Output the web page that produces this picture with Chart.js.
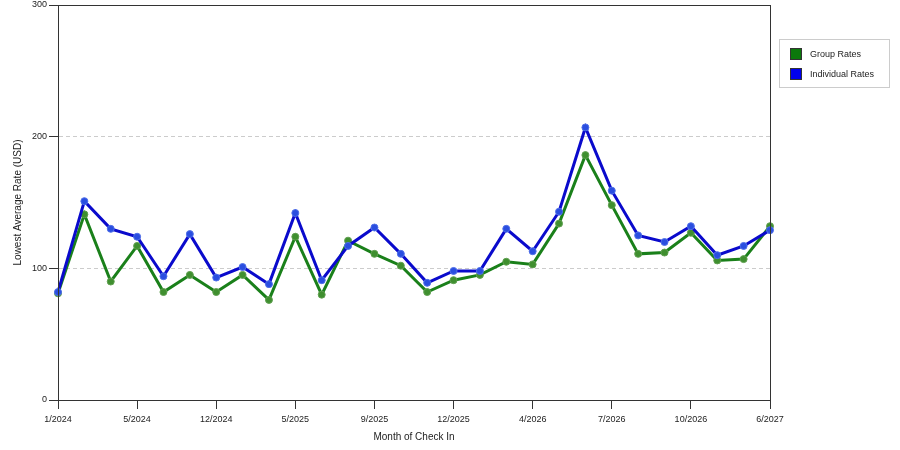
<!DOCTYPE html>
<html>
<head>
<meta charset="utf-8">
<style>
	html, body { margin: 0; padding: 0; background: #fff; }
	#wrap { width: 900px; height: 450px; position: relative; }
</style>
<script src="https://cdn.jsdelivr.net/npm/chart.js@4/dist/chart.umd.min.js"></script>
</head>
<body>
<div id="wrap"><canvas id="chart"></canvas></div>
<script>
// months of check in (only every third one is labelled on the axis)
const months = [
	`1/2024`, `2/2024`, `4/2024`, `5/2024`, `7/2024`, `9/2024`, `12/2024`,
	`1/2025`, `3/2025`, `5/2025`, `6/2025`, `8/2025`, `9/2025`, `10/2025`,
	`11/2025`, `12/2025`, `1/2026`, `3/2026`, `4/2026`, `5/2026`, `6/2026`,
	`7/2026`, `8/2026`, `9/2026`, `10/2026`, `12/2026`, `3/2027`, `6/2027`
];
const groupRates = [
	81, 141, 90, 117, 82, 95, 82, 95, 76, 124,
	80, 121, 111, 102, 82, 91, 95, 105, 103, 134,
	186, 148, 111, 112, 127, 106, 107, 132
];
const individualRates = [
	82, 151, 130, 124, 94, 126, 93, 101, 88, 142,
	91, 117, 131, 111, 89, 98, 98, 130, 113, 143,
	207, 159, 125, 120, 132, 110, 117, 129
];
const yTicks = [0, 100, 200, 300];

const green = `#1a801a`;
const blue = `#0a0acc`;
const textColor = `#222`;
const fontFamily = `"Liberation Sans", Arial, sans-serif`;

// frame round the plot area plus the boxed legend on the right
const frameAndLegend = {
	id: `frameAndLegend`,
	afterDraw(chart) {
		const {ctx, chartArea: a} = chart;
		ctx.save();
		ctx.strokeStyle = `#333`;
		ctx.lineWidth = 1;
		ctx.strokeRect(a.left + 0.5, a.top + 0.5, a.right - a.left, a.bottom - a.top);

		const boxX = 779, boxY = 39, boxW = 110, boxH = 48;
		ctx.strokeStyle = `#cccccc`;
		ctx.strokeRect(boxX + 0.5, boxY + 0.5, boxW, boxH);
		ctx.font = `9px ${fontFamily}`;
		ctx.textBaseline = `middle`;
		[0, 1].forEach((n, row) => {
			const ds = chart.data.datasets[n];
			const y = boxY + 9 + row * 20;
			ctx.fillStyle = ds.legendColor;
			ctx.fillRect(boxX + 11, y, 12, 12);
			ctx.strokeStyle = `#333`;
			ctx.strokeRect(boxX + 11.5, y + 0.5, 11, 11);
			ctx.fillStyle = textColor;
			ctx.fillText(ds.label, boxX + 31, y + 6.5);
		});
		ctx.restore();
	}
};

new Chart(document.getElementById(`chart`), {
	type: `line`,
	data: {
		labels: months,
		datasets: [{
			label: `Group Rates`,
			data: groupRates,
			borderColor: green,
			backgroundColor: green,
			legendColor: `#0b780b`,
			pointBackgroundColor: `#3f8f2f`,
			pointBorderColor: `#5f9f4f`,
			borderWidth: 3,
			pointRadius: 3.5,
			pointBorderWidth: 1,
			tension: 0,
			order: 1
		}, {
			label: `Individual Rates`,
			data: individualRates,
			borderColor: blue,
			backgroundColor: blue,
			legendColor: `#0000ee`,
			pointBackgroundColor: `#2a4ee0`,
			pointBorderColor: `#4f6fe8`,
			borderWidth: 3,
			pointRadius: 3.5,
			pointBorderWidth: 1,
			tension: 0,
			order: 0
		}]
	},
	options: {
		responsive: true,
		maintainAspectRatio: false,
		animation: false,
		layout: { padding: { left: 0, top: 5, right: 130, bottom: 0 } },
		plugins: {
			legend: { display: false },
			tooltip: { enabled: false }
		},
		scales: {
			x: {
				type: `category`,
				offset: false,
				afterFit: scale => {
					scale.height = 50;
					scale.paddingLeft = 0;
					scale.paddingRight = 0;
				},
				grid: {
					drawOnChartArea: false,
					tickLength: 9,
					tickColor: ctx => ctx.index % 3 === 0 ? `#333` : `transparent`
				},
				border: { color: `#333` },
				ticks: {
					autoSkip: false,
					maxRotation: 0,
					padding: 5,
					color: textColor,
					font: { family: fontFamily, size: 9 },
					callback: function(value, index) {
						return index % 3 === 0 ? this.getLabelForValue(value) : ``;
					}
				},
				title: {
					display: true,
					text: `Month of Check In`,
					color: textColor,
					font: { family: fontFamily, size: 10 },
					padding: { top: 0, bottom: 7 }
				}
			},
			y: {
				min: 0,
				max: 300,
				afterBuildTicks: scale => {
					scale.ticks = yTicks.map(v => ({value: v}));
				},
				afterFit: scale => {
					scale.width = 58;
					scale.paddingTop = 0;
					scale.paddingBottom = 0;
				},
				grid: {
					color: ctx => (ctx.tick && (ctx.tick.value === 0 || ctx.tick.value === 300)) ? `transparent` : `#cccccc`,
					tickColor: `#333`,
					tickLength: 9
				},
				border: { color: `#333`, dash: [4, 3] },
				ticks: {
					padding: 2,
					color: textColor,
					font: { family: fontFamily, size: 9 }
				},
				title: {
					display: true,
					text: `Lowest Average Rate (USD)`,
					color: textColor,
					font: { family: fontFamily, size: 10 },
					padding: { top: 12, bottom: 0 }
				}
			}
		}
	},
	plugins: [frameAndLegend]
});
</script>
</body>
</html>
